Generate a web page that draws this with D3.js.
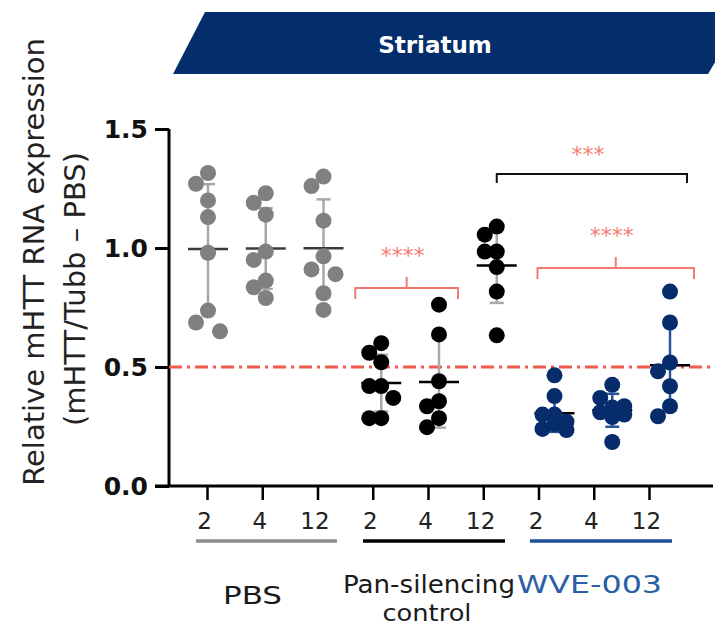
<!DOCTYPE html>
<html>
<head>
<meta charset="utf-8">
<script src="https://cdn.jsdelivr.net/npm/d3@7"></script>
<style>
  body { margin: 0; background: #fff; }
  svg { display: block; }
  text { font-family: "DejaVu Sans", Verdana, sans-serif; }
</style>
</head>
<body>
<svg id="chart" width="715" height="630"></svg>
<script>
// data
const groups = ["PBS", "Pan-silencing", "WVE-003"];
const weeks = ["2", "4", "12"];

const pbsValues = [
  [1.315, 1.27, 1.20, 1.13, 0.98, 0.737, 0.687, 0.65],
  [1.23, 1.19, 1.14, 0.985, 0.95, 0.863, 0.835, 0.79],
  [1.30, 1.26, 1.115, 0.965, 0.91, 0.89, 0.81, 0.74]
];
const panValues = [
  [0.60, 0.56, 0.52, 0.42, 0.42, 0.37, 0.285, 0.285],
  [0.762, 0.637, 0.44, 0.356, 0.335, 0.285, 0.247],
  [1.09, 1.056, 0.985, 0.985, 0.92, 0.817, 0.633]
];
const wveValues = [
  [0.465, 0.378, 0.30, 0.30, 0.27, 0.26, 0.24, 0.235],
  [0.425, 0.37, 0.335, 0.33, 0.31, 0.30, 0.29, 0.185],
  [0.817, 0.687, 0.519, 0.482, 0.419, 0.335, 0.293]
];

const yTicks = [0, 0.5, 1.0, 1.5];
const threshold = 0.5;

// significance brackets: from/to column ids, height in y units, stars
const sigFrom = ["Pan-silencing-2", "Pan-silencing-12", "WVE-003-2"];
const sigTo = ["Pan-silencing-4", "WVE-003-12", "WVE-003-12"];
const sigLevel = [0.832, 1.311, 0.916];
const sigLabel = ["****", "***", "****"];

const groupColors = {
  "PBS": { dot: "#808080", bar: "#a8a8a8", mean: "#3a3a3a", line: "#8c8c8c", text: "#1a1a1a" },
  "Pan-silencing": { dot: "#000000", bar: "#a8a8a8", mean: "#000000", line: "#000000", text: "#1a1a1a" },
  "WVE-003": { dot: "#062c6b", bar: "#2b559b", mean: "#000000", line: "#1f4f9b", text: "#2a5ea6" }
};

const allValues = [pbsValues, panValues, wveValues];
const columns = [];
groups.forEach((g, gi) => {
  weeks.forEach((w, wi) => {
    columns.push({ id: g + "-" + w, group: g, week: w, values: allValues[gi][wi] });
  });
});

const svg = d3.select("#chart");

// banner
const banner = svg.append("g");
banner.append("path")
  .attr("d", "M173,74 L205,12 L745,12 L708,74 Z")
  .attr("fill", "#032d6b");
banner.append("text")
  .attr("x", 435).attr("y", 53)
  .attr("text-anchor", "middle")
  .attr("fill", "#fff")
  .attr("font-weight", "bold")
  .attr("font-size", 23)
  .text("Striatum");

const y = d3.scaleLinear().domain([0, 1.5]).range([486, 129]);
// the data columns and the tick marks are not quite aligned in the figure
const xData = d3.scalePoint().domain(columns.map(c => c.id)).range([208, 670]);
const xAxis = d3.scalePoint().domain(columns.map(c => c.id)).range([207, 649]);

// x axis
const gx = svg.append("g")
  .attr("transform", "translate(0,486)")
  .call(d3.axisBottom(xAxis).tickSize(14).tickPadding(13).tickFormat(id => id.split("-").pop()));
gx.select(".domain").remove();
gx.selectAll(".tick line").attr("stroke", "#000").attr("stroke-width", 2.5);
gx.selectAll(".tick text")
  .attr("font-size", 23)
  .attr("fill", "#222")
  .attr("dx", -3)
  .attr("font-family", "DejaVu Sans, Verdana, sans-serif");
svg.append("line")
  .attr("x1", 155).attr("x2", 713)
  .attr("y1", 486).attr("y2", 486)
  .attr("stroke", "#000").attr("stroke-width", 3);

// y axis
const gy = svg.append("g")
  .attr("transform", "translate(169,0)")
  .call(d3.axisLeft(y).tickValues(yTicks).tickSize(14).tickPadding(7).tickFormat(d3.format(".1f")));
gy.select(".domain").attr("stroke-width", 3).attr("d", "M0," + y(1.5) + "V" + y(0));
gy.selectAll(".tick line").attr("stroke", "#000").attr("stroke-width", 3);
gy.selectAll(".tick text")
  .attr("font-family", "Liberation Sans, Arial, sans-serif")
  .attr("font-weight", "bold")
  .attr("font-size", 25)
  .attr("fill", "#111");

// y title
svg.append("text")
  .attr("transform", "translate(44,262) rotate(-90)")
  .attr("text-anchor", "middle")
  .attr("font-size", 29)
  .attr("fill", "#222")
  .text("Relative mHTT RNA expression");
svg.append("text")
  .attr("transform", "translate(85,289) rotate(-90)")
  .attr("text-anchor", "middle")
  .attr("font-size", 29)
  .attr("fill", "#222")
  .text("(mHTT/Tubb \u2013 PBS)");

// threshold line
svg.append("line")
  .attr("x1", 169).attr("x2", 715)
  .attr("y1", y(threshold)).attr("y2", y(threshold))
  .attr("stroke", "#ef5a4f").attr("stroke-width", 3)
  .attr("stroke-dasharray", "13,5,3,5");

// small swarm: dots that would collide slide one step left or right
function swarm(values, cx) {
  const placed = [];
  const offsets = [0, -12, 12];
  const minD = 15;
  values.slice().sort((a, b) => b - a).forEach(v => {
    const cy = y(v);
    let best = null, bestD = -1;
    for (const off of offsets) {
      const px = cx + off;
      const d = placed.length ? d3.min(placed, p => Math.hypot(p.x - px, p.y - cy)) : Infinity;
      if (d >= minD) { best = px; break; }
      if (d > bestD) { bestD = d; best = px; }
    }
    placed.push({ x: best, y: cy, v: v });
  });
  return placed;
}

const plot = svg.append("g");
columns.forEach(c => {
  const col = groupColors[c.group];
  const cx = xData(c.id);
  const m = d3.mean(c.values);
  const sd = d3.deviation(c.values);
  const g = plot.append("g");

  g.append("line")
    .attr("x1", cx).attr("x2", cx)
    .attr("y1", y(m + sd)).attr("y2", y(m - sd))
    .attr("stroke", col.bar).attr("stroke-width", 2.5);
  [m + sd, m - sd].forEach(v => {
    g.append("line")
      .attr("x1", cx - 7).attr("x2", cx + 7)
      .attr("y1", y(v)).attr("y2", y(v))
      .attr("stroke", col.bar).attr("stroke-width", 2.5);
  });
  g.append("line")
    .attr("x1", cx - 20).attr("x2", cx + 20)
    .attr("y1", y(m)).attr("y2", y(m))
    .attr("stroke", col.mean).attr("stroke-width", 2.5);

  g.selectAll("circle")
    .data(swarm(c.values, cx))
    .enter()
    .append("circle")
    .attr("cx", d => d.x)
    .attr("cy", d => d.y)
    .attr("r", 8)
    .attr("fill", col.dot);
});

// significance brackets
const padL = [-26, 0, -17];
const padR = [19, 17, 24];
sigLabel.forEach((lab, i) => {
  const x1 = xData(sigFrom[i]) + padL[i];
  const x2 = xData(sigTo[i]) + padR[i];
  const yy = y(sigLevel[i]);
  const red = i !== 1;
  const stroke = red ? "#f47a70" : "#111";
  const b = svg.append("g").attr("fill", "none").attr("stroke", stroke).attr("stroke-width", 2);
  const leg = red ? 11 : 9;
  b.append("path").attr("d", `M${x1},${yy + leg}V${yy}H${x2}V${yy + leg}`);
  if (red) b.append("path").attr("d", `M${(x1 + x2) / 2},${yy}V${yy - 11}`);
  svg.append("text")
    .attr("x", (x1 + x2) / 2 - 4)
    .attr("y", yy - (red ? 25 : 12))
    .attr("text-anchor", "middle")
    .attr("font-size", 22)
    .attr("fill", "#f47a70")
    .text(lab);
});

// group underlines and labels
const underX = [[196, 337], [363, 505], [530, 672]];
groups.forEach((g, i) => {
  svg.append("line")
    .attr("x1", underX[i][0]).attr("x2", underX[i][1])
    .attr("y1", 541).attr("y2", 541)
    .attr("stroke", groupColors[g].line).attr("stroke-width", 3.5);
});

svg.append("text")
  .attr("x", 223).attr("y", 604)
  .attr("font-size", 24).attr("fill", groupColors["PBS"].text)
  .attr("textLength", 59).attr("lengthAdjust", "spacingAndGlyphs")
  .text("PBS");
svg.append("text")
  .attr("x", 343).attr("y", 593)
  .attr("font-size", 24).attr("fill", groupColors["Pan-silencing"].text)
  .attr("textLength", 172).attr("lengthAdjust", "spacingAndGlyphs")
  .text("Pan-silencing");
svg.append("text")
  .attr("x", 427).attr("y", 621)
  .attr("text-anchor", "middle")
  .attr("font-size", 23).attr("fill", groupColors["Pan-silencing"].text)
  .attr("textLength", 89).attr("lengthAdjust", "spacingAndGlyphs")
  .text("control");
svg.append("text")
  .attr("x", 517).attr("y", 593)
  .attr("font-size", 24).attr("fill", groupColors["WVE-003"].text)
  .attr("textLength", 145).attr("lengthAdjust", "spacingAndGlyphs")
  .text("WVE-003");
</script>
</body>
</html>
